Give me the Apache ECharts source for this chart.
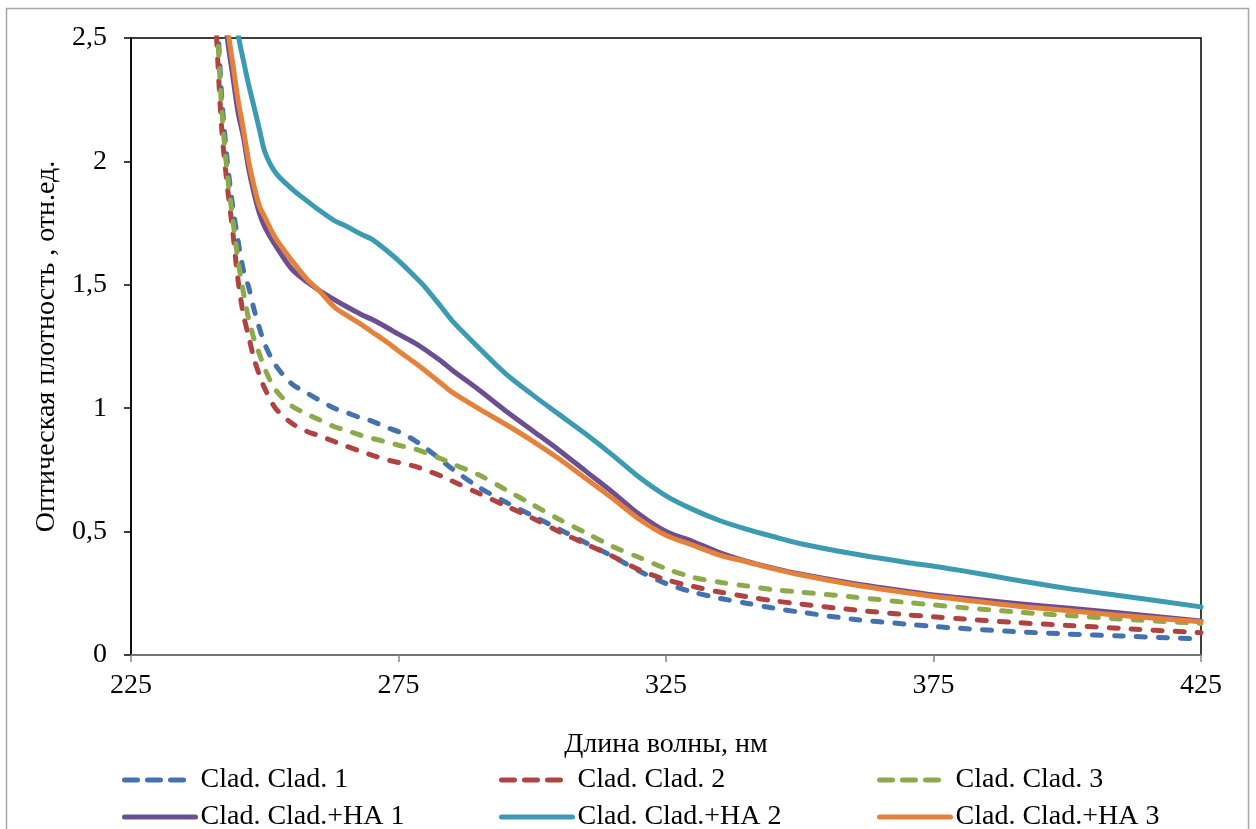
<!DOCTYPE html>
<html><head><meta charset="utf-8">
<script src="https://cdn.jsdelivr.net/npm/echarts@6/dist/echarts.min.js"></script>
<style>html,body{margin:0;padding:0;background:#fff}#c{width:1256px;height:829px}</style>
</head><body><div id="c"></div>
<script>
const wavelengths = [240,241,242,243,244,245,246,247,248,249,250,252,255,258,260,263,265,268,270,273,275,278,280,283,285,290,295,300,305,310,315,320,325,330,335,340,345,350,360,370,375,380,390,400,410,425];
const clad1 = [3.1,2.65,2.25,2.0,1.82,1.68,1.56,1.49,1.40,1.325,1.26,1.175,1.1,1.06,1.035,1.0,0.985,0.96,0.948,0.92,0.905,0.87,0.84,0.79,0.755,0.68,0.62,0.565,0.51,0.455,0.40,0.34,0.29,0.255,0.23,0.21,0.19,0.174,0.145,0.125,0.116,0.108,0.095,0.085,0.077,0.065];
const clad2 = [2.95,2.5,2.12,1.9,1.72,1.52,1.38,1.29,1.2,1.135,1.08,1.0,0.94,0.905,0.89,0.865,0.848,0.825,0.81,0.79,0.78,0.765,0.75,0.725,0.705,0.655,0.605,0.555,0.50,0.45,0.40,0.345,0.305,0.278,0.255,0.237,0.22,0.207,0.183,0.163,0.155,0.147,0.132,0.12,0.108,0.09];
const clad3 = [3.0,2.6,2.2,1.95,1.77,1.6,1.47,1.36,1.28,1.22,1.16,1.075,1.01,0.975,0.955,0.925,0.912,0.89,0.878,0.862,0.85,0.835,0.82,0.795,0.775,0.73,0.67,0.61,0.55,0.495,0.44,0.395,0.35,0.315,0.295,0.28,0.265,0.255,0.235,0.213,0.203,0.193,0.175,0.16,0.146,0.128];
const cladHA1 = [3.4,3.0,2.75,2.5,2.35,2.2,2.1,1.97,1.87,1.79,1.735,1.66,1.565,1.51,1.48,1.44,1.415,1.38,1.36,1.325,1.3,1.265,1.237,1.19,1.155,1.075,0.99,0.91,0.83,0.745,0.66,0.57,0.5,0.46,0.415,0.38,0.352,0.328,0.29,0.258,0.243,0.232,0.21,0.19,0.17,0.138];
const cladHA2 = [4.0,3.7,3.3,3.0,2.75,2.52,2.41,2.31,2.22,2.13,2.04,1.955,1.89,1.838,1.805,1.76,1.74,1.705,1.685,1.635,1.598,1.535,1.49,1.41,1.355,1.245,1.14,1.055,0.975,0.895,0.81,0.72,0.645,0.59,0.545,0.51,0.48,0.452,0.41,0.375,0.36,0.343,0.305,0.27,0.24,0.195];
const cladHA3 = [3.5,3.1,2.8,2.55,2.4,2.25,2.13,2.0,1.9,1.82,1.775,1.69,1.6,1.52,1.48,1.41,1.38,1.34,1.31,1.265,1.232,1.185,1.152,1.1,1.065,0.998,0.935,0.868,0.795,0.715,0.635,0.55,0.485,0.445,0.405,0.378,0.35,0.325,0.285,0.252,0.237,0.225,0.2,0.18,0.16,0.135];
const seriesNames = ['Clad. Clad. 1','Clad. Clad. 2','Clad. Clad. 3','Clad. Clad.+HA 1','Clad. Clad.+HA 2','Clad. Clad.+HA 3'];
const seriesValues = [clad1, clad2, clad3, cladHA1, cladHA2, cladHA3];
const colors = ['#4472AE','#AE4341','#8CAA4B','#6B4F92','#3C9BB3','#E4813A'];
const dashed = [true,true,true,false,false,false];
const xTitle = 'Длина волны, нм';
const yTitle = 'Оптическая плотность , отн.ед.';

const FONT = '"Liberation Serif", "Times New Roman", serif';
const LW = 5;
const series = seriesNames.map((n,i)=>({
  name:n, type:'line', symbol:'none', showSymbol:false, smooth:0.3, clip:true,
  z: dashed[i]?2:3,
  data: wavelengths.map((w,k)=>[w, seriesValues[i][k]]),
  lineStyle:{color:colors[i], width:LW, type: dashed[i]?[9,13]:'solid', cap:'round', join:'round'},
  itemStyle:{color:colors[i]}
}));
const colX = [122, 499, 877];
const rowY = [766, 803];
const legends = seriesNames.map((n,i)=>({
  show:true, data:[n], left: colX[i%3], top: rowY[Math.floor(i/3)],
  itemWidth: dashed[i]?62:71, itemHeight:14, itemGap:0, padding:0,
  itemStyle:{opacity:0},
  lineStyle:{width:LW, type: dashed[i]?[13,10]:'solid', cap:'round'},
  textStyle:{fontFamily:FONT, fontSize:28, color:'#000', padding:[0,0,0, dashed[i]?9:0]},
  selectedMode:false
}));
const chart = echarts.init(document.getElementById('c'), null, {renderer:'canvas'});
chart.setOption({
  animation:false,
  backgroundColor:'#fff',
  color: colors,
  grid:{left:131, right:55, top:38, bottom:174, show:true, borderColor:'#000', borderWidth:1.5, containLabel:false},
  xAxis:{type:'value', min:225, max:425, interval:50,
    name:xTitle, nameLocation:'middle', nameGap:76,
    nameTextStyle:{fontFamily:FONT, fontSize:28, color:'#000'},
    axisLine:{show:true, lineStyle:{color:'#868686', width:1.5}},
    axisTick:{show:true, length:7, lineStyle:{color:'#868686', width:1.5}},
    axisLabel:{fontFamily:FONT, fontSize:28, color:'#000', margin:17},
    splitLine:{show:false}},
  yAxis:{type:'value', min:0, max:2.5, interval:0.5,
    name:yTitle, nameLocation:'middle', nameGap:63,
    nameTextStyle:{fontFamily:FONT, fontSize:28, color:'#000'},
    axisLine:{show:true, lineStyle:{color:'#000', width:1.5}},
    axisTick:{show:true, length:7, lineStyle:{color:'#000', width:1.5}},
    axisLabel:{fontFamily:FONT, fontSize:28, color:'#000', margin:24,
      formatter:v=>String(v).replace('.',',')},
    splitLine:{show:false}},
  legend: legends,
  graphic:[{type:'rect', silent:true, z:-1, shape:{x:6.5, y:8.5, width:1242, height:840},
    style:{fill:null, stroke:'#A6A6A6', lineWidth:1.5}}],
  series
});
</script></body></html>
